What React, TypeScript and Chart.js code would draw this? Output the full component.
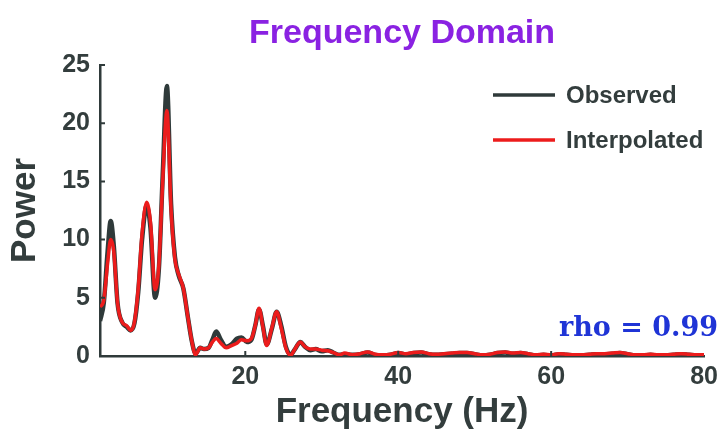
import React, { useEffect, useRef } from "react";
import { Chart, registerables } from "chart.js";

Chart.register(...registerables);

const chartTitle = "Frequency Domain";
const xTitle = "Frequency (Hz)";
const yTitle = "Power";
const seriesNames = ["Observed", "Interpolated"];
const rhoText = "rho = 0.99";
const xTicks = [20, 40, 60, 80];
const yTicks = [0, 5, 10, 15, 20, 25];

const freq = [
  1, 1.5, 2, 2.4, 2.8, 3.3, 3.9, 4.5, 5, 5.5, 6, 6.5, 7.1, 7.6, 8.2, 8.7, 9.2, 9.75,
  10.3, 10.8, 11.3, 11.9, 12.5, 13, 13.5, 14.1, 14.6, 15.2, 15.7, 16.2, 16.8, 17.5,
  18.2, 18.9, 19.5, 20.2, 20.8, 21.3, 21.8, 22.3, 22.8, 23.5, 24.1, 24.7, 25.3, 25.9,
  26.5, 27.2, 27.8, 28.5, 29.2, 30, 30.8, 31.5, 32.3, 33, 34, 35, 36, 37, 38, 39, 40,
  41, 42, 43, 44, 45, 46, 47, 48, 49, 50, 51, 52, 53, 54, 55, 56, 57, 58, 59, 60, 61,
  62, 63, 64, 65, 66, 67, 68, 69, 70, 71, 72, 73, 74, 75, 76, 77, 78, 79, 80,
];

const observed = [
  3.0, 4.6, 9.0, 11.6, 9.5, 4.5, 2.9, 2.5, 2.2, 2.8, 5.5, 10.0, 12.9, 11.0, 5.0, 7.5, 15.5, 23.2,
  13.0, 8.5, 6.9, 5.8, 3.3, 1.3, 0.2, 0.7, 0.6, 0.7, 1.4, 2.1, 1.4, 0.8,
  1.0, 1.5, 1.6, 1.2, 1.4, 2.6, 4.0, 2.6, 1.0, 2.4, 3.8, 2.6, 0.8, 0.1,
  0.6, 1.2, 0.8, 0.5, 0.6, 0.4, 0.5, 0.3, 0.1, 0.15, 0.1, 0.15, 0.3, 0.1, 0.05, 0.1, 0.25,
  0.15, 0.25, 0.3, 0.15, 0.1, 0.15, 0.2, 0.25, 0.25, 0.15, 0.05, 0.1, 0.25, 0.3, 0.2, 0.25, 0.15, 0.05, 0.1, 0.05, 0.15,
  0.1, 0.05, 0.05, 0.1, 0.15, 0.15, 0.2, 0.25, 0.15, 0.05, 0.05, 0.1, 0.05, 0.05, 0.1, 0.15, 0.1, 0.05, 0.05,
];

const interpolated = [
  4.2, 4.8, 8.0, 10.0, 9.0, 4.5, 2.9, 2.6, 2.2, 2.9, 5.8, 10.5, 13.2, 11.5, 5.7, 7.8, 15.0, 21.1,
  12.5, 8.3, 7.0, 5.8, 3.3, 1.3, 0.1, 0.7, 0.6, 0.7, 1.2, 1.5, 1.1, 0.7,
  0.9, 1.1, 1.4, 1.3, 1.5, 2.6, 4.1, 2.5, 0.9, 2.5, 3.8, 2.4, 0.7, 0.05,
  0.6, 1.2, 0.8, 0.6, 0.6, 0.5, 0.45, 0.3, 0.1, 0.25, 0.1, 0.2, 0.35, 0.15, 0.1, 0.15, 0.3,
  0.2, 0.3, 0.35, 0.2, 0.15, 0.2, 0.25, 0.3, 0.3, 0.2, 0.1, 0.15, 0.3, 0.35, 0.25, 0.3, 0.2, 0.1, 0.15, 0.1, 0.2,
  0.15, 0.1, 0.1, 0.15, 0.2, 0.2, 0.25, 0.3, 0.2, 0.1, 0.1, 0.15, 0.1, 0.1, 0.15, 0.2, 0.15, 0.1, 0.1,
];

const OBS_COLOR = "#2f3a3a";
const INT_COLOR = "#ec1c1c";
const AXIS_COLOR = "#2f3a3a";
const TEXT_COLOR = "#333d3d";
const TITLE_COLOR = "#8a22e2";
const RHO_COLOR = "#1f34d6";
const SANS = "'Liberation Sans', Arial, Helvetica, sans-serif";

const overlay = {
  id: "overlay",
  afterDraw(chart: any) {
    const { ctx, chartArea: a, scales } = chart;
    const xs = scales.x;
    const ys = scales.y;
    ctx.save();
    // inward tick marks
    ctx.strokeStyle = AXIS_COLOR;
    ctx.lineWidth = 2;
    ctx.beginPath();
    xTicks.forEach((v) => {
      if (v >= xs.max) return;
      const px = xs.getPixelForValue(v);
      ctx.moveTo(px, a.bottom);
      ctx.lineTo(px, a.bottom - 5);
    });
    yTicks.forEach((v) => {
      if (v <= ys.min) return;
      const py = ys.getPixelForValue(v);
      ctx.moveTo(a.left, py);
      ctx.lineTo(a.left + 5, py);
    });
    ctx.stroke();

    const cx = (a.left + a.right) / 2;
    // title
    ctx.fillStyle = TITLE_COLOR;
    ctx.font = `bold 34px ${SANS}`;
    ctx.textAlign = "center";
    ctx.textBaseline = "alphabetic";
    ctx.fillText(chartTitle, cx, 43);

    // x title
    ctx.fillStyle = TEXT_COLOR;
    ctx.font = `bold 35px ${SANS}`;
    ctx.fillText(xTitle, cx, 422);

    // y title
    ctx.save();
    ctx.translate(35, (a.top + a.bottom) / 2);
    ctx.rotate(-Math.PI / 2);
    ctx.fillText(yTitle, 0, 0);
    ctx.restore();

    // legend
    const colors = [OBS_COLOR, INT_COLOR];
    const rows = [95, 140];
    ctx.font = `bold 24px ${SANS}`;
    ctx.textAlign = "left";
    ctx.textBaseline = "middle";
    seriesNames.forEach((name, i) => {
      ctx.strokeStyle = colors[i];
      ctx.lineWidth = 3.5;
      ctx.beginPath();
      ctx.moveTo(493, rows[i]);
      ctx.lineTo(555, rows[i]);
      ctx.stroke();
      ctx.fillStyle = TEXT_COLOR;
      ctx.fillText(name, 566, rows[i] + 1);
    });

    // rho annotation
    ctx.fillStyle = RHO_COLOR;
    ctx.font = `bold 27px 'DejaVu Serif', 'Liberation Serif', serif`;
    ctx.textAlign = "right";
    ctx.textBaseline = "alphabetic";
    ctx.fillText(rhoText, 718, 336);
    ctx.restore();
  },
};

export default function App() {
  const canvasRef = useRef<HTMLCanvasElement | null>(null);

  useEffect(() => {
    if (!canvasRef.current) return;
    const chart = new Chart(canvasRef.current, {
      type: "line",
      data: {
        datasets: [
          {
            label: seriesNames[0],
            data: freq.map((f, i) => ({ x: f, y: observed[i] })),
            borderColor: OBS_COLOR,
            backgroundColor: OBS_COLOR,
            borderWidth: 4.5,
            pointRadius: 0,
            cubicInterpolationMode: "monotone",
            order: 2,
          },
          {
            label: seriesNames[1],
            data: freq.map((f, i) => ({ x: f, y: interpolated[i] })),
            borderColor: INT_COLOR,
            backgroundColor: INT_COLOR,
            borderWidth: 3.5,
            pointRadius: 0,
            cubicInterpolationMode: "monotone",
            order: 1,
          },
        ],
      },
      options: {
        animation: false,
        responsive: false,
        maintainAspectRatio: false,
        layout: { padding: { top: 65, right: 19, left: 0, bottom: 0 } },
        plugins: {
          legend: { display: false },
          title: { display: false },
          tooltip: { enabled: false },
        },
        scales: {
          x: {
            type: "linear",
            min: 1,
            max: 80,
            grid: { display: true, drawOnChartArea: false, drawTicks: false },
            border: { display: true, color: AXIS_COLOR, width: 2.5 },
            ticks: {
              color: TEXT_COLOR,
              font: { family: SANS, size: 25, weight: "bold" },
              padding: 6,
              maxRotation: 0,
            },
            afterBuildTicks: (s: any) => {
              s.ticks = xTicks.map((v) => ({ value: v }));
            },
            afterFit: (s: any) => {
              s.height = 74;
            },
          },
          y: {
            type: "linear",
            min: 0,
            max: 25,
            grid: { display: true, drawOnChartArea: false, drawTicks: false },
            border: { display: true, color: AXIS_COLOR, width: 2.5 },
            ticks: {
              color: TEXT_COLOR,
              font: { family: SANS, size: 25, weight: "bold" },
              padding: 10,
            },
            afterBuildTicks: (s: any) => {
              s.ticks = yTicks.map((v) => ({ value: v }));
            },
            afterFit: (s: any) => {
              s.width = 100;
            },
          },
        },
      },
      plugins: [overlay],
    });
    return () => chart.destroy();
  }, []);

  return (
    <div style={{ position: "fixed", left: 0, top: 0, width: 724, height: 430, background: "#ffffff" }}>
      <canvas ref={canvasRef} width={724} height={430} style={{ width: 724, height: 430, display: "block" }} />
    </div>
  );
}
